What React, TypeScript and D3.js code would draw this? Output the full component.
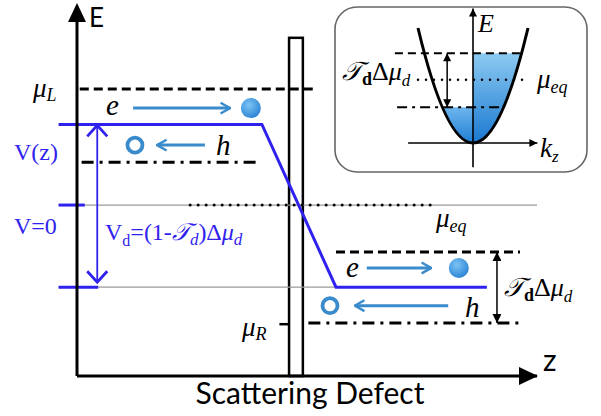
import React from 'react';
import * as d3 from 'd3';

const W = 601;
const H = 416;

// main diagram, z in [0,100], energy in [0,100]
const potentialZ = [-4, 40.2, 56.3, 89.1];
const potentialE = [68, 68, 24, 24];
const levelMuL = 77.6;
const levelHoleL = 57.8;
const levelZero = 46.2;
const levelElecR = 33.5;
const levelHoleR = 14.3;
const levelMuR = 14;
const barrierZ = [46.1, 49.1];
const barrierTop = 91.4;
const electronE = [72.4, 29.2];
const holeE = [62.4, 19];

// inset band, E = k^2
const insetTop = 0.78;
const insetEq = 0.55;
const insetBottom = 0.31;

const blue = '#2f22ee';
const carrier = '#3a8bcb';
const serif = '"Liberation Serif", "DejaVu Serif", serif';
const sans = 'Lato, "Open Sans", "Liberation Sans", sans-serif';
const script = '𝒯';

const App = () => {
  const x = d3.scaleLinear().domain([0, 100]).range([77, 537]);
  const y = d3.scaleLinear().domain([0, 100]).range([376, 6]);

  const kx = d3.scaleLinear().domain([-1, 1]).range([418, 528]);
  const ey = d3.scaleLinear().domain([0, 1]).range([143, 28]);

  const potential = d3.line<number>()
    .x((d, i) => x(potentialZ[i]))
    .y((d, i) => y(potentialE[i]))(potentialZ);

  // quadratic bezier piece of E = k^2 between k=a and k=b
  const para = (a: number, b: number) =>
    `M${kx(a)},${ey(a * a)}Q${kx((a + b) / 2)},${ey(a * b)} ${kx(b)},${ey(b * b)}`;
  const paraTail = (a: number, b: number) =>
    `Q${kx((a + b) / 2)},${ey(a * b)} ${kx(b)},${ey(b * b)}`;

  const rTop = Math.sqrt(insetTop);
  const rBot = Math.sqrt(insetBottom);
  const rightFill = `M${kx(0)},${ey(insetTop)}L${kx(0)},${ey(0)}` + paraTail(0, rTop) + 'Z';
  const leftFill = `M${kx(0)},${ey(insetBottom)}L${kx(0)},${ey(0)}` + paraTail(0, -rBot) + 'Z';

  const hline = (z0: number, z1: number, e: number, props: any) => (
    <line x1={x(z0)} x2={x(z1)} y1={y(e)} y2={y(e)} {...props} />
  );
  const dashed = { stroke: '#000', strokeWidth: 3, strokeDasharray: '9 5' };
  const dashDot = { stroke: '#000', strokeWidth: 3, strokeDasharray: '12 6 3 6' };

  const vx = x(4.4);
  const vTop = y(potentialE[0]) + 1;
  const vBot = y(potentialE[2]) - 5;

  return (
    <svg width={W} height={H} style={{ position: 'absolute', left: 0, top: 0, background: '#fff' }}>
      <defs>
        <marker id="chev" viewBox="0 0 10 10" refX="9" refY="5" markerWidth="12" markerHeight="14"
          markerUnits="userSpaceOnUse" orient="auto-start-reverse">
          <path d="M1,0.5 L9,5 L1,9.5" fill="none" stroke={carrier} strokeWidth="2" />
        </marker>
        <marker id="tri" viewBox="0 0 10 10" refX="10" refY="5" markerWidth="10" markerHeight="9"
          markerUnits="userSpaceOnUse" orient="auto-start-reverse">
          <path d="M0,0 L10,5 L0,10 Z" fill="#000" />
        </marker>
        <marker id="triS" viewBox="0 0 10 10" refX="10" refY="5" markerWidth="9" markerHeight="8"
          markerUnits="userSpaceOnUse" orient="auto-start-reverse">
          <path d="M0,0 L10,5 L0,10 Z" fill="#000" />
        </marker>
        <radialGradient id="ball" cx="0.4" cy="0.35" r="0.7">
          <stop offset="0" stopColor="#7cc4f4" />
          <stop offset="1" stopColor="#2a82d4" />
        </radialGradient>
        <linearGradient id="fillR" x1="0" y1="0" x2="0" y2="1">
          <stop offset="0" stopColor="#8ccaf2" />
          <stop offset="1" stopColor="#1a78d0" />
        </linearGradient>
        <linearGradient id="fillL" x1="0" y1="0" x2="0" y2="1">
          <stop offset="0" stopColor="#6db6ee" />
          <stop offset="1" stopColor="#1f7ed2" />
        </linearGradient>
      </defs>

      {/* barrier */}
      <rect x={x(barrierZ[0])} y={y(barrierTop)} width={x(barrierZ[1]) - x(barrierZ[0])}
        height={y(0) - y(barrierTop)} fill="#fff" stroke="#000" strokeWidth={2.5} />

      {/* reference levels */}
      {hline(-4, 100, levelZero, { stroke: '#9a9a9a', strokeWidth: 1.3 })}
      {hline(-4, 56.3, potentialE[2], { stroke: '#9a9a9a', strokeWidth: 1.3 })}
      {hline(24.6, 78.5, levelZero, { stroke: '#000', strokeWidth: 3, strokeDasharray: '0 8', strokeLinecap: 'round' })}
      {hline(0.6, 52, levelMuL, dashed)}
      {hline(1, 40, levelHoleL, dashDot)}
      {hline(56.3, 96.3, levelElecR, dashed)}
      {hline(50.3, 96.3, levelHoleR, dashDot)}
      {hline(44, 46.1, levelMuR, { stroke: '#000', strokeWidth: 2.5 })}

      {/* potential profile */}
      <path d={potential || ''} fill="none" stroke={blue} strokeWidth={3} />
      {hline(-4, 1.7, levelZero, { stroke: blue, strokeWidth: 3 })}
      {hline(-4, 4.6, potentialE[2], { stroke: blue, strokeWidth: 3 })}
      <line x1={vx} x2={vx} y1={vTop} y2={vBot} stroke={blue} strokeWidth={1.8} />
      <path d={`M${vx - 10},${vTop + 11}L${vx},${vTop}L${vx + 10},${vTop + 11}`} fill="none" stroke={blue} strokeWidth={2.8} />
      <path d={`M${vx - 10},${vBot - 11}L${vx},${vBot}L${vx + 10},${vBot - 11}`} fill="none" stroke={blue} strokeWidth={2.8} />

      {/* axes */}
      <line x1={x(0)} x2={x(0)} y1={y(0)} y2={y(96)} stroke="#000" strokeWidth={3} />
      <line x1={x(0)} x2={x(100)} y1={y(0)} y2={y(0)} stroke="#000" strokeWidth={3} />
      <path d={`M${x(100) + 1},${y(0)} l-19,-9 v18 z`} fill="#000" />
      <path d={`M${x(0)},${y(100) - 3} l-9,19 h18 z`} fill="#000" />
      <text x={89} y={27} fontFamily={sans} fontSize={26}>E</text>
      <text x={543} y={371} fontFamily={sans} fontSize={30}>z</text>
      <text x={310} y={404} fontFamily={sans} fontSize={30} textAnchor="middle">Scattering Defect</text>

      {/* carriers, left */}
      <line x1={x(12.2)} x2={x(33.3)} y1={y(electronE[0])} y2={y(electronE[0])} stroke={carrier} strokeWidth={3}
        markerEnd="url(#chev)" />
      <circle cx={x(37.8)} cy={y(electronE[0])} r={10} fill="url(#ball)" />
      <line x1={x(27.8)} x2={x(17.4)} y1={y(holeE[0])} y2={y(holeE[0])} stroke={carrier} strokeWidth={3}
        markerEnd="url(#chev)" />
      <circle cx={x(12.6)} cy={y(holeE[0])} r={7.5} fill="none" stroke={carrier} strokeWidth={3.8} />
      <text x={106} y={115} fontFamily={serif} fontStyle="italic" fontSize={29}>e</text>
      <text x={216} y={155} fontFamily={serif} fontStyle="italic" fontSize={29}>h</text>

      {/* carriers, right */}
      <line x1={x(63)} x2={x(77)} y1={y(electronE[1])} y2={y(electronE[1])} stroke={carrier} strokeWidth={3}
        markerEnd="url(#chev)" />
      <circle cx={x(83)} cy={y(electronE[1])} r={10} fill="url(#ball)" />
      <line x1={x(80.7)} x2={x(60.4)} y1={y(holeE[1])} y2={y(holeE[1])} stroke={carrier} strokeWidth={3}
        markerEnd="url(#chev)" />
      <circle cx={x(55)} cy={y(holeE[1])} r={7.5} fill="none" stroke={carrier} strokeWidth={3.8} />
      <text x={346} y={277} fontFamily={serif} fontStyle="italic" fontSize={29}>e</text>
      <text x={465} y={317} fontFamily={serif} fontStyle="italic" fontSize={29}>h</text>

      <line x1={x(91.3)} x2={x(91.3)} y1={y(levelElecR)} y2={y(levelHoleR)} stroke="#000" strokeWidth={1.5}
        markerStart="url(#tri)" markerEnd="url(#tri)" />

      {/* labels */}
      <text x={33} y={97} fontFamily={serif} fontSize={27}>
        <tspan fontStyle="italic">μ</tspan><tspan fontStyle="italic" fontSize={18} dy={4}>L</tspan>
      </text>
      <text x={242} y={336} fontFamily={serif} fontSize={27}>
        <tspan fontStyle="italic">μ</tspan><tspan fontStyle="italic" fontSize={18} dy={4}>R</tspan>
      </text>
      <text x={436} y={227} fontFamily={serif} fontSize={27}>
        <tspan fontStyle="italic">μ</tspan><tspan fontStyle="italic" fontSize={18} dy={5}>eq</tspan>
      </text>
      <text x={14} y={160} fontFamily={serif} fontSize={24} fill={blue}>V(z)</text>
      <text x={14} y={234} fontFamily={serif} fontSize={24} fill={blue}>V=0</text>
      <text x={105} y={240} fontFamily={serif} fontSize={24} fill={blue}>
        V<tspan fontSize={16} dy={6}>d</tspan><tspan dy={-6}>=(1-</tspan><tspan fontStyle="italic">{script}</tspan>
        <tspan fontStyle="italic" fontSize={17} dy={5}>d</tspan><tspan dy={-5}>)Δ</tspan>
        <tspan fontStyle="italic">μ</tspan><tspan fontStyle="italic" fontSize={17} dy={5}>d</tspan>
      </text>
      <text x={504} y={296} fontFamily={serif} fontSize={26}>
        <tspan fontStyle="italic">{script}</tspan><tspan fontWeight="bold" fontSize={18} dy={5}>d</tspan>
        <tspan dy={-5}>Δ</tspan><tspan fontStyle="italic">μ</tspan>
        <tspan fontStyle="italic" fontSize={17} dy={6}>d</tspan>
      </text>

      {/* inset */}
      <rect x={335} y={7} width={252} height={165} rx={22} fill="#fff" stroke="#666" strokeWidth={1.6} />
      <path d={rightFill} fill="url(#fillR)" />
      <path d={leftFill} fill="url(#fillL)" />
      <line x1={kx(-1.42)} x2={kx(0.91)} y1={ey(insetTop)} y2={ey(insetTop)} stroke="#000" strokeWidth={2}
        strokeDasharray="8 5" />
      <line x1={kx(-1)} x2={kx(1.02)} y1={ey(insetEq)} y2={ey(insetEq)} stroke="#000" strokeWidth={2.5}
        strokeDasharray="0 8" strokeLinecap="round" />
      <line x1={kx(-1.38)} x2={kx(0.55)} y1={ey(insetBottom)} y2={ey(insetBottom)} stroke="#000" strokeWidth={2}
        strokeDasharray="10 5 3 5" />
      <path d={para(-1, 1)} fill="none" stroke="#000" strokeWidth={3} />
      <line x1={kx(0)} x2={kx(0)} y1={ey(-0.21)} y2={ey(1.17)} stroke="#000" strokeWidth={1.6} markerEnd="url(#triS)" />
      <line x1={kx(-1.18)} x2={kx(1.17)} y1={ey(0)} y2={ey(0)} stroke="#000" strokeWidth={1.6} markerEnd="url(#triS)" />
      <line x1={kx(-0.47)} x2={kx(-0.47)} y1={ey(insetTop)} y2={ey(insetBottom)} stroke="#000" strokeWidth={1.5}
        markerStart="url(#triS)" markerEnd="url(#triS)" />
      <text x={478} y={32} fontFamily={serif} fontStyle="italic" fontSize={26}>E</text>
      <text x={540} y={157} fontFamily={serif} fontSize={27}>
        <tspan fontStyle="italic">k</tspan><tspan fontStyle="italic" fontSize={17} dy={5}>z</tspan>
      </text>
      <text x={537} y={88} fontFamily={serif} fontSize={27}>
        <tspan fontStyle="italic">μ</tspan><tspan fontStyle="italic" fontSize={18} dy={5}>eq</tspan>
      </text>
      <text x={342} y={80} fontFamily={serif} fontSize={26}>
        <tspan fontStyle="italic">{script}</tspan><tspan fontWeight="bold" fontSize={18} dy={5}>d</tspan>
        <tspan dy={-5}>Δ</tspan><tspan fontStyle="italic">μ</tspan>
        <tspan fontStyle="italic" fontSize={17} dy={6}>d</tspan>
      </text>
    </svg>
  );
};

export default App;
